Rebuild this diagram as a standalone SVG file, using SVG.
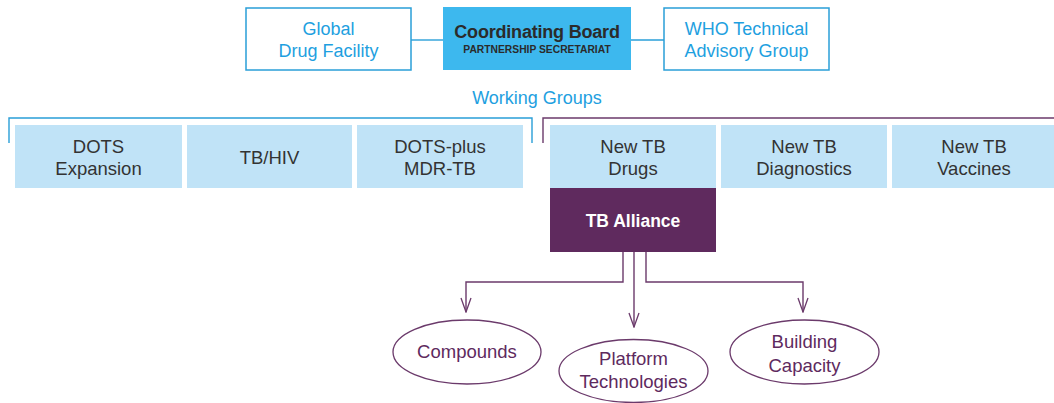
<svg xmlns="http://www.w3.org/2000/svg" width="1054" height="403" viewBox="0 0 1054 403">
  <defs>
    <style>
      text { font-family: "Liberation Sans", Arial, sans-serif; text-anchor: middle; }
      .outline { fill: #ffffff; stroke: #2a9fd8; stroke-width: 1.5; }
      .board { fill: #3db8ee; }
      .wg { fill: #c0e3f7; }
      .alliance { fill: #5f2a5e; }
      .oval { fill: #ffffff; stroke: #6b3a6b; stroke-width: 1.3; }
      .blue-t { fill: #1ea0e0; font-size: 18px; }
      .dark-t { fill: #333333; font-size: 18.5px; }
      .purple-t { fill: #5e2a5e; font-size: 18.5px; }
      .link-blue { stroke: #2a9fd8; stroke-width: 1.4; fill: none; }
      .link-purple { stroke: #6b3a6b; stroke-width: 1.4; fill: none; }
    </style>
    <!-- open vee arrowhead, tip along +x so orient="auto" follows the line -->
    <marker id="vee" viewBox="0 0 16 12" refX="15" refY="6" markerWidth="16" markerHeight="12" markerUnits="userSpaceOnUse" orient="auto">
      <path d="M1,1 L15,6 L1,11" fill="none" stroke="#6b3a6b" stroke-width="1.3"/>
    </marker>
  </defs>

  <!-- connectors -->
  <g id="connectors">
    <line class="link-blue" x1="411" y1="40" x2="443" y2="40"/>
    <line class="link-blue" x1="631" y1="40" x2="664" y2="40"/>
    <!-- working group brackets -->
    <polyline class="link-blue" points="9,143 9,118 532,118 532,143"/>
    <polyline class="link-purple" points="543,143 543,118 1054,118"/>
    <!-- TB Alliance branches -->
    <polyline class="link-purple" points="623,252 623,282 466,282 466,312" marker-end="url(#vee)"/>
    <polyline class="link-purple" points="634,252 634,327" marker-end="url(#vee)"/>
    <polyline class="link-purple" points="646,252 646,282 803,282 803,312" marker-end="url(#vee)"/>
  </g>

  <!-- top row -->
  <g id="global-drug-facility">
    <rect class="outline" x="246" y="8" width="165" height="62"/>
    <text class="blue-t" x="328.5" y="35">Global</text>
    <text class="blue-t" x="328.5" y="57">Drug Facility</text>
  </g>
  <g id="coordinating-board">
    <rect class="board" x="443" y="7" width="188" height="63"/>
    <text x="537" y="38" fill="#2b2b2b" font-size="18" font-weight="bold" letter-spacing="-0.2">Coordinating Board</text>
    <text x="537" y="53" fill="#2b2b2b" font-size="10.3" font-weight="bold">PARTNERSHIP SECRETARIAT</text>
  </g>
  <g id="who-tag">
    <rect class="outline" x="664" y="8" width="165" height="62"/>
    <text class="blue-t" x="746.5" y="35">WHO Technical</text>
    <text class="blue-t" x="746.5" y="57">Advisory Group</text>
  </g>

  <g id="working-groups-label">
    <text class="blue-t" x="537" y="104">Working Groups</text>
  </g>

  <!-- working groups -->
  <g id="dots-expansion">
    <rect class="wg" x="15" y="125" width="167" height="63"/>
    <text class="dark-t" x="98.5" y="153">DOTS</text>
    <text class="dark-t" x="98.5" y="175">Expansion</text>
  </g>
  <g id="tb-hiv">
    <rect class="wg" x="187" y="125" width="165" height="63"/>
    <text class="dark-t" x="269.5" y="164">TB/HIV</text>
  </g>
  <g id="dots-plus">
    <rect class="wg" x="357" y="125" width="166" height="63"/>
    <text class="dark-t" x="440" y="153">DOTS-plus</text>
    <text class="dark-t" x="440" y="175">MDR-TB</text>
  </g>
  <g id="new-tb-drugs">
    <rect class="wg" x="550" y="125" width="166" height="63"/>
    <text class="dark-t" x="633" y="153">New TB</text>
    <text class="dark-t" x="633" y="175">Drugs</text>
  </g>
  <g id="new-tb-diagnostics">
    <rect class="wg" x="721" y="125" width="166" height="63"/>
    <text class="dark-t" x="804" y="153">New TB</text>
    <text class="dark-t" x="804" y="175">Diagnostics</text>
  </g>
  <g id="new-tb-vaccines">
    <rect class="wg" x="892" y="125" width="162" height="63"/>
    <text class="dark-t" x="974" y="153">New TB</text>
    <text class="dark-t" x="974" y="175">Vaccines</text>
  </g>

  <g id="tb-alliance">
    <rect class="alliance" x="550" y="188" width="166" height="64"/>
    <text x="633" y="227" fill="#ffffff" font-size="17.5" font-weight="bold">TB Alliance</text>
  </g>

  <!-- TB Alliance focus areas -->
  <g id="compounds">
    <ellipse class="oval" cx="467" cy="352" rx="74" ry="32"/>
    <text class="purple-t" x="467" y="358">Compounds</text>
  </g>
  <g id="platform-technologies">
    <ellipse class="oval" cx="633.5" cy="371" rx="74.5" ry="31.5"/>
    <text class="purple-t" x="633.5" y="365">Platform</text>
    <text class="purple-t" x="633.5" y="388">Technologies</text>
  </g>
  <g id="building-capacity">
    <ellipse class="oval" cx="804.5" cy="352" rx="74.5" ry="32"/>
    <text class="purple-t" x="804.5" y="348">Building</text>
    <text class="purple-t" x="804.5" y="372">Capacity</text>
  </g>
</svg>
